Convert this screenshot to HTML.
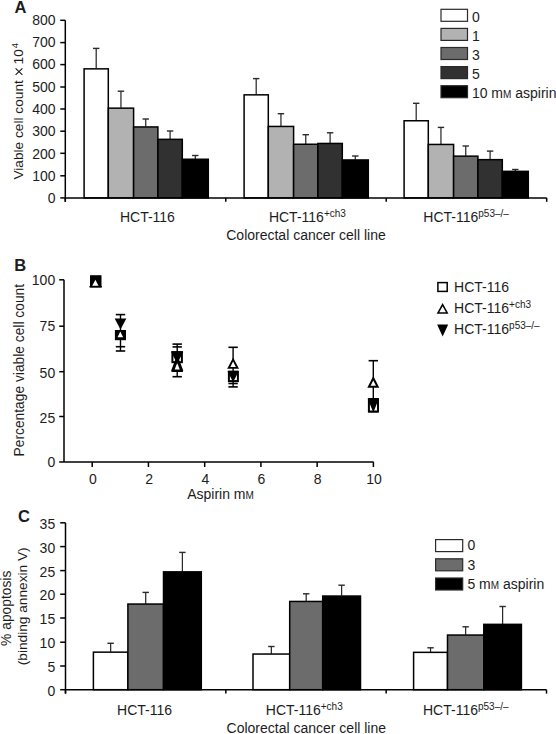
<!DOCTYPE html>
<html><head><meta charset="utf-8"><style>
html,body{margin:0;padding:0;background:#fff;width:556px;height:734px;overflow:hidden}
svg{display:block}
text{font-family:"Liberation Sans",sans-serif;fill:#1c1c1c}
</style></head><body>
<svg width="556" height="734" viewBox="0 0 556 734">
<line x1="96.20" y1="68.50" x2="96.20" y2="48.40" stroke="#2a2a2a" stroke-width="1.25"/>
<line x1="93.00" y1="48.40" x2="99.40" y2="48.40" stroke="#2a2a2a" stroke-width="1.4"/>
<line x1="120.95" y1="107.80" x2="120.95" y2="91.20" stroke="#2a2a2a" stroke-width="1.25"/>
<line x1="117.75" y1="91.20" x2="124.15" y2="91.20" stroke="#2a2a2a" stroke-width="1.4"/>
<line x1="145.75" y1="126.60" x2="145.75" y2="119.00" stroke="#2a2a2a" stroke-width="1.25"/>
<line x1="142.55" y1="119.00" x2="148.95" y2="119.00" stroke="#2a2a2a" stroke-width="1.4"/>
<line x1="170.10" y1="139.00" x2="170.10" y2="131.00" stroke="#2a2a2a" stroke-width="1.25"/>
<line x1="166.90" y1="131.00" x2="173.30" y2="131.00" stroke="#2a2a2a" stroke-width="1.4"/>
<line x1="195.30" y1="158.90" x2="195.30" y2="155.50" stroke="#2a2a2a" stroke-width="1.25"/>
<line x1="192.10" y1="155.50" x2="198.50" y2="155.50" stroke="#2a2a2a" stroke-width="1.4"/>
<rect x="84.10" y="68.85" width="24.20" height="129.05" fill="#ffffff" stroke="#000" stroke-width="1.5"/>
<rect x="108.30" y="108.15" width="25.30" height="89.75" fill="#b2b2b2" stroke="#000" stroke-width="1.5"/>
<rect x="133.60" y="126.95" width="24.30" height="70.95" fill="#6c6c6c" stroke="#000" stroke-width="1.5"/>
<rect x="157.90" y="139.35" width="24.40" height="58.55" fill="#313131" stroke="#000" stroke-width="1.5"/>
<rect x="182.30" y="159.25" width="26.00" height="38.65" fill="#000000" stroke="#000" stroke-width="1.5"/>
<line x1="256.20" y1="94.50" x2="256.20" y2="78.60" stroke="#2a2a2a" stroke-width="1.25"/>
<line x1="253.00" y1="78.60" x2="259.40" y2="78.60" stroke="#2a2a2a" stroke-width="1.4"/>
<line x1="280.95" y1="126.10" x2="280.95" y2="113.70" stroke="#2a2a2a" stroke-width="1.25"/>
<line x1="277.75" y1="113.70" x2="284.15" y2="113.70" stroke="#2a2a2a" stroke-width="1.4"/>
<line x1="305.75" y1="143.90" x2="305.75" y2="134.70" stroke="#2a2a2a" stroke-width="1.25"/>
<line x1="302.55" y1="134.70" x2="308.95" y2="134.70" stroke="#2a2a2a" stroke-width="1.4"/>
<line x1="330.10" y1="143.10" x2="330.10" y2="132.80" stroke="#2a2a2a" stroke-width="1.25"/>
<line x1="326.90" y1="132.80" x2="333.30" y2="132.80" stroke="#2a2a2a" stroke-width="1.4"/>
<line x1="355.30" y1="159.60" x2="355.30" y2="156.00" stroke="#2a2a2a" stroke-width="1.25"/>
<line x1="352.10" y1="156.00" x2="358.50" y2="156.00" stroke="#2a2a2a" stroke-width="1.4"/>
<rect x="244.10" y="94.85" width="24.20" height="103.05" fill="#ffffff" stroke="#000" stroke-width="1.5"/>
<rect x="268.30" y="126.45" width="25.30" height="71.45" fill="#b2b2b2" stroke="#000" stroke-width="1.5"/>
<rect x="293.60" y="144.25" width="24.30" height="53.65" fill="#6c6c6c" stroke="#000" stroke-width="1.5"/>
<rect x="317.90" y="143.45" width="24.40" height="54.45" fill="#313131" stroke="#000" stroke-width="1.5"/>
<rect x="342.30" y="159.95" width="26.00" height="37.95" fill="#000000" stroke="#000" stroke-width="1.5"/>
<line x1="416.20" y1="120.40" x2="416.20" y2="103.30" stroke="#2a2a2a" stroke-width="1.25"/>
<line x1="413.00" y1="103.30" x2="419.40" y2="103.30" stroke="#2a2a2a" stroke-width="1.4"/>
<line x1="440.95" y1="144.10" x2="440.95" y2="127.40" stroke="#2a2a2a" stroke-width="1.25"/>
<line x1="437.75" y1="127.40" x2="444.15" y2="127.40" stroke="#2a2a2a" stroke-width="1.4"/>
<line x1="465.75" y1="155.80" x2="465.75" y2="146.00" stroke="#2a2a2a" stroke-width="1.25"/>
<line x1="462.55" y1="146.00" x2="468.95" y2="146.00" stroke="#2a2a2a" stroke-width="1.4"/>
<line x1="490.10" y1="159.30" x2="490.10" y2="151.10" stroke="#2a2a2a" stroke-width="1.25"/>
<line x1="486.90" y1="151.10" x2="493.30" y2="151.10" stroke="#2a2a2a" stroke-width="1.4"/>
<line x1="515.30" y1="171.00" x2="515.30" y2="169.50" stroke="#2a2a2a" stroke-width="1.25"/>
<line x1="512.10" y1="169.50" x2="518.50" y2="169.50" stroke="#2a2a2a" stroke-width="1.4"/>
<rect x="404.10" y="120.75" width="24.20" height="77.15" fill="#ffffff" stroke="#000" stroke-width="1.5"/>
<rect x="428.30" y="144.45" width="25.30" height="53.45" fill="#b2b2b2" stroke="#000" stroke-width="1.5"/>
<rect x="453.60" y="156.15" width="24.30" height="41.75" fill="#6c6c6c" stroke="#000" stroke-width="1.5"/>
<rect x="477.90" y="159.65" width="24.40" height="38.25" fill="#313131" stroke="#000" stroke-width="1.5"/>
<rect x="502.30" y="171.35" width="26.00" height="26.55" fill="#000000" stroke="#000" stroke-width="1.5"/>
<line x1="65.30" y1="20.30" x2="65.30" y2="201.80" stroke="#000" stroke-width="1.5"/>
<line x1="65.30" y1="197.90" x2="546.70" y2="197.90" stroke="#000" stroke-width="1.5"/>
<line x1="60.30" y1="197.90" x2="65.30" y2="197.90" stroke="#000" stroke-width="1.5"/>
<text x="55.50" y="203.10" text-anchor="end" font-size="14" >0</text>
<line x1="60.30" y1="175.80" x2="65.30" y2="175.80" stroke="#000" stroke-width="1.5"/>
<text x="55.50" y="180.80" text-anchor="end" font-size="14" >100</text>
<line x1="60.30" y1="153.30" x2="65.30" y2="153.30" stroke="#000" stroke-width="1.5"/>
<text x="55.50" y="158.70" text-anchor="end" font-size="14" >200</text>
<line x1="60.30" y1="131.20" x2="65.30" y2="131.20" stroke="#000" stroke-width="1.5"/>
<text x="55.50" y="136.30" text-anchor="end" font-size="14" >300</text>
<line x1="60.30" y1="109.00" x2="65.30" y2="109.00" stroke="#000" stroke-width="1.5"/>
<text x="55.50" y="114.10" text-anchor="end" font-size="14" >400</text>
<line x1="60.30" y1="87.00" x2="65.30" y2="87.00" stroke="#000" stroke-width="1.5"/>
<text x="55.50" y="91.90" text-anchor="end" font-size="14" >500</text>
<line x1="60.30" y1="64.60" x2="65.30" y2="64.60" stroke="#000" stroke-width="1.5"/>
<text x="55.50" y="69.40" text-anchor="end" font-size="14" >600</text>
<line x1="60.30" y1="42.60" x2="65.30" y2="42.60" stroke="#000" stroke-width="1.5"/>
<text x="55.50" y="47.20" text-anchor="end" font-size="14" >700</text>
<line x1="60.30" y1="20.30" x2="65.30" y2="20.30" stroke="#000" stroke-width="1.5"/>
<text x="55.50" y="25.00" text-anchor="end" font-size="14" >800</text>
<line x1="65.30" y1="197.90" x2="65.30" y2="201.80" stroke="#000" stroke-width="1.5"/>
<line x1="225.77" y1="197.90" x2="225.77" y2="201.80" stroke="#000" stroke-width="1.5"/>
<line x1="386.23" y1="197.90" x2="386.23" y2="201.80" stroke="#000" stroke-width="1.5"/>
<line x1="546.70" y1="197.90" x2="546.70" y2="201.80" stroke="#000" stroke-width="1.5"/>
<text x="147.40" y="221.80" text-anchor="middle" font-size="14" >HCT-116</text>
<text x="268.9" y="222" font-size="14">HCT-116<tspan font-size="10" dy="-5.3">+ch3</tspan></text>
<text x="423.3" y="222" font-size="14">HCT-116<tspan font-size="10" dy="-5.3">p53–/–</tspan></text>
<text x="306.00" y="240.00" text-anchor="middle" font-size="14" >Colorectal cancer cell line</text>
<g transform="translate(22.8,179.6) rotate(-90)"><text x="0" y="0" font-size="13.7">Viable cell count</text><text x="115.2" y="0" font-size="13.7">10</text><text x="131.4" y="-5.2" font-size="9.6">4</text></g>
<path d="M15.6,68.4 L22.4,74.9 M15.6,74.9 L22.4,68.4" stroke="#111" stroke-width="1.05" fill="none"/>
<text x="14.6" y="12.9" font-size="16.5" font-weight="bold">A</text>
<rect x="441.00" y="9.30" width="26.50" height="12.00" fill="#ffffff" stroke="#2a2a2a" stroke-width="1.2"/>
<text x="471.90" y="21.70" text-anchor="start" font-size="14" >0</text>
<rect x="441.00" y="28.40" width="26.50" height="12.00" fill="#b2b2b2" stroke="#2a2a2a" stroke-width="1.2"/>
<text x="471.90" y="40.80" text-anchor="start" font-size="14" >1</text>
<rect x="441.00" y="47.50" width="26.50" height="12.00" fill="#6c6c6c" stroke="#2a2a2a" stroke-width="1.2"/>
<text x="471.90" y="59.90" text-anchor="start" font-size="14" >3</text>
<rect x="441.00" y="66.60" width="26.50" height="12.00" fill="#313131" stroke="#2a2a2a" stroke-width="1.2"/>
<text x="471.90" y="79.00" text-anchor="start" font-size="14" >5</text>
<rect x="441.00" y="85.70" width="26.50" height="12.00" fill="#000000" stroke="#2a2a2a" stroke-width="1.2"/>
<text x="471.90" y="98.10" text-anchor="start" font-size="14" >10 m<tspan font-size="10">M</tspan> aspirin</text>
<line x1="64.00" y1="279.80" x2="64.00" y2="462.00" stroke="#000" stroke-width="1.5"/>
<line x1="64.00" y1="462.00" x2="373.60" y2="462.00" stroke="#000" stroke-width="1.5"/>
<line x1="59.20" y1="462.00" x2="64.00" y2="462.00" stroke="#000" stroke-width="1.5"/>
<text x="55.20" y="467.40" text-anchor="end" font-size="14" >0</text>
<line x1="59.20" y1="416.50" x2="64.00" y2="416.50" stroke="#000" stroke-width="1.5"/>
<text x="55.20" y="423.30" text-anchor="end" font-size="14" >25</text>
<line x1="59.20" y1="371.70" x2="64.00" y2="371.70" stroke="#000" stroke-width="1.5"/>
<text x="55.20" y="378.00" text-anchor="end" font-size="14" >50</text>
<line x1="59.20" y1="326.20" x2="64.00" y2="326.20" stroke="#000" stroke-width="1.5"/>
<text x="55.20" y="331.30" text-anchor="end" font-size="14" >75</text>
<line x1="59.20" y1="279.80" x2="64.00" y2="279.80" stroke="#000" stroke-width="1.5"/>
<text x="55.20" y="284.80" text-anchor="end" font-size="14" >100</text>
<line x1="92.20" y1="462.00" x2="92.20" y2="467.00" stroke="#000" stroke-width="1.5"/>
<text x="92.80" y="483.50" text-anchor="middle" font-size="14" >0</text>
<line x1="148.44" y1="462.00" x2="148.44" y2="467.00" stroke="#000" stroke-width="1.5"/>
<text x="149.04" y="483.50" text-anchor="middle" font-size="14" >2</text>
<line x1="204.68" y1="462.00" x2="204.68" y2="467.00" stroke="#000" stroke-width="1.5"/>
<text x="205.28" y="483.50" text-anchor="middle" font-size="14" >4</text>
<line x1="260.92" y1="462.00" x2="260.92" y2="467.00" stroke="#000" stroke-width="1.5"/>
<text x="261.52" y="483.50" text-anchor="middle" font-size="14" >6</text>
<line x1="317.16" y1="462.00" x2="317.16" y2="467.00" stroke="#000" stroke-width="1.5"/>
<text x="317.76" y="483.50" text-anchor="middle" font-size="14" >8</text>
<line x1="373.40" y1="462.00" x2="373.40" y2="467.00" stroke="#000" stroke-width="1.5"/>
<text x="374.00" y="483.50" text-anchor="middle" font-size="14" >10</text>
<text x="220.50" y="498.90" text-anchor="middle" font-size="14" >Aspirin m<tspan font-size="10">M</tspan></text>
<text transform="translate(24,370.2) rotate(-90)" text-anchor="middle" font-size="13.8">Percentage viable cell count</text>
<text x="14.3" y="271" font-size="16.5" font-weight="bold">B</text>
<rect x="90.00" y="275.20" width="11.50" height="12.30" fill="#000"/>
<polygon points="95.40,279.70 98.50,285.80 92.20,285.80" fill="#fff"/>
<line x1="89.40" y1="286.70" x2="101.90" y2="286.70" stroke="#000" stroke-width="1.4"/>
<line x1="120.50" y1="314.60" x2="120.50" y2="351.00" stroke="#000" stroke-width="1.4"/>
<line x1="115.80" y1="314.60" x2="125.20" y2="314.60" stroke="#000" stroke-width="1.6"/>
<line x1="115.80" y1="346.70" x2="125.20" y2="346.70" stroke="#000" stroke-width="1.6"/>
<line x1="115.80" y1="351.00" x2="125.20" y2="351.00" stroke="#000" stroke-width="1.6"/>
<polygon points="114.65,318.40 126.35,318.40 120.50,329.40" fill="#000"/>
<rect x="114.90" y="330.00" width="11.10" height="10.20" fill="#000"/>
<polygon points="120.30,331.50 123.10,337.30 117.50,337.30" fill="#fff"/>
<line x1="177.20" y1="344.10" x2="177.20" y2="376.70" stroke="#000" stroke-width="1.4"/>
<line x1="172.50" y1="344.10" x2="181.90" y2="344.10" stroke="#000" stroke-width="1.6"/>
<line x1="172.50" y1="346.90" x2="181.90" y2="346.90" stroke="#000" stroke-width="1.6"/>
<line x1="172.50" y1="376.70" x2="181.90" y2="376.70" stroke="#000" stroke-width="1.6"/>
<polygon points="177.20,356.50 183.10,371.90 171.30,371.90" fill="#000"/>
<polygon points="177.20,362.93 179.76,369.60 174.64,369.60" fill="#fff"/>
<rect x="171.40" y="351.20" width="11.50" height="12.00" fill="#000"/>
<rect x="173.40" y="353.20" width="7.50" height="8.00" fill="#fff"/>
<polygon points="172.00,352.00 182.40,352.00 177.20,361.80" fill="#000" stroke="#000" stroke-width="1.6" stroke-linejoin="round"/>
<polyline points="172.00,371 177.20,357.6 182.40,371" fill="none" stroke="#000" stroke-width="2"/>
<line x1="233.10" y1="347.30" x2="233.10" y2="386.90" stroke="#000" stroke-width="1.4"/>
<line x1="228.40" y1="347.30" x2="237.80" y2="347.30" stroke="#000" stroke-width="1.6"/>
<line x1="228.40" y1="383.50" x2="237.80" y2="383.50" stroke="#000" stroke-width="1.6"/>
<line x1="228.40" y1="386.90" x2="237.80" y2="386.90" stroke="#000" stroke-width="1.6"/>
<polygon points="233.10,357.40 239.00,368.80 227.20,368.80" fill="#000"/>
<polygon points="233.10,361.53 235.88,366.90 230.32,366.90" fill="#fff"/>
<rect x="227.90" y="370.80" width="11.00" height="11.30" fill="#000"/>
<rect x="229.90" y="372.80" width="7.00" height="7.30" fill="#fff"/>
<polygon points="228.30,371.50 237.90,371.50 233.10,380.60" fill="#000" stroke="#000" stroke-width="1.3" stroke-linejoin="round"/>
<line x1="373.30" y1="360.70" x2="373.30" y2="400.00" stroke="#000" stroke-width="1.4"/>
<line x1="368.60" y1="360.70" x2="378.00" y2="360.70" stroke="#000" stroke-width="1.6"/>
<polygon points="373.30,376.00 379.30,387.70 367.30,387.70" fill="#000"/>
<polygon points="373.30,380.38 376.03,385.70 370.57,385.70" fill="#fff"/>
<rect x="367.90" y="398.00" width="11.10" height="14.50" fill="#000"/>
<rect x="369.90" y="400.00" width="7.10" height="10.50" fill="#fff"/>
<polygon points="368.50,398.80 378.10,398.80 373.30,410.80" fill="#000" stroke="#000" stroke-width="1.3" stroke-linejoin="round"/>
<line x1="368.30" y1="411.80" x2="378.30" y2="411.80" stroke="#000" stroke-width="1.4"/>
<rect x="437.9" y="282.6" width="9.3" height="8.8" fill="none" stroke="#000" stroke-width="1.5"/>
<polygon points="442.60,303.00 448.50,313.80 436.70,313.80" fill="#000"/>
<polygon points="442.60,306.13 445.97,312.30 439.23,312.30" fill="#fff"/>
<polygon points="437.10,324.40 448.20,324.40 442.65,336.40" fill="#000"/>
<text x="454.10" y="292.30" text-anchor="start" font-size="14" >HCT-116</text>
<text x="454.1" y="313.3" font-size="14">HCT-116<tspan font-size="10" dy="-5.3">+ch3</tspan></text>
<text x="454.1" y="334.3" font-size="14">HCT-116<tspan font-size="10" dy="-5.3">p53–/–</tspan></text>
<line x1="110.65" y1="651.80" x2="110.65" y2="643.30" stroke="#2a2a2a" stroke-width="1.25"/>
<line x1="107.45" y1="643.30" x2="113.85" y2="643.30" stroke="#2a2a2a" stroke-width="1.4"/>
<line x1="145.70" y1="603.70" x2="145.70" y2="592.40" stroke="#2a2a2a" stroke-width="1.25"/>
<line x1="142.50" y1="592.40" x2="148.90" y2="592.40" stroke="#2a2a2a" stroke-width="1.4"/>
<line x1="182.40" y1="571.50" x2="182.40" y2="552.40" stroke="#2a2a2a" stroke-width="1.25"/>
<line x1="179.20" y1="552.40" x2="185.60" y2="552.40" stroke="#2a2a2a" stroke-width="1.4"/>
<rect x="93.40" y="652.15" width="34.50" height="37.55" fill="#ffffff" stroke="#000" stroke-width="1.5"/>
<rect x="127.90" y="604.05" width="35.60" height="85.65" fill="#6c6c6c" stroke="#000" stroke-width="1.5"/>
<rect x="163.50" y="571.85" width="37.80" height="117.85" fill="#000000" stroke="#000" stroke-width="1.5"/>
<line x1="271.35" y1="653.70" x2="271.35" y2="646.50" stroke="#2a2a2a" stroke-width="1.25"/>
<line x1="268.15" y1="646.50" x2="274.55" y2="646.50" stroke="#2a2a2a" stroke-width="1.4"/>
<line x1="306.20" y1="601.10" x2="306.20" y2="593.80" stroke="#2a2a2a" stroke-width="1.25"/>
<line x1="303.00" y1="593.80" x2="309.40" y2="593.80" stroke="#2a2a2a" stroke-width="1.4"/>
<line x1="341.60" y1="595.70" x2="341.60" y2="585.20" stroke="#2a2a2a" stroke-width="1.25"/>
<line x1="338.40" y1="585.20" x2="344.80" y2="585.20" stroke="#2a2a2a" stroke-width="1.4"/>
<rect x="253.00" y="654.05" width="36.70" height="35.65" fill="#ffffff" stroke="#000" stroke-width="1.5"/>
<rect x="289.70" y="601.45" width="33.00" height="88.25" fill="#6c6c6c" stroke="#000" stroke-width="1.5"/>
<rect x="322.70" y="596.05" width="37.80" height="93.65" fill="#000000" stroke="#000" stroke-width="1.5"/>
<line x1="430.55" y1="652.00" x2="430.55" y2="647.80" stroke="#2a2a2a" stroke-width="1.25"/>
<line x1="427.35" y1="647.80" x2="433.75" y2="647.80" stroke="#2a2a2a" stroke-width="1.4"/>
<line x1="465.65" y1="634.70" x2="465.65" y2="626.80" stroke="#2a2a2a" stroke-width="1.25"/>
<line x1="462.45" y1="626.80" x2="468.85" y2="626.80" stroke="#2a2a2a" stroke-width="1.4"/>
<line x1="502.60" y1="624.00" x2="502.60" y2="606.50" stroke="#2a2a2a" stroke-width="1.25"/>
<line x1="499.40" y1="606.50" x2="505.80" y2="606.50" stroke="#2a2a2a" stroke-width="1.4"/>
<rect x="413.60" y="652.35" width="33.90" height="37.35" fill="#ffffff" stroke="#000" stroke-width="1.5"/>
<rect x="447.50" y="635.05" width="36.30" height="54.65" fill="#6c6c6c" stroke="#000" stroke-width="1.5"/>
<rect x="483.80" y="624.35" width="37.60" height="65.35" fill="#000000" stroke="#000" stroke-width="1.5"/>
<line x1="65.50" y1="522.80" x2="65.50" y2="693.60" stroke="#000" stroke-width="1.5"/>
<line x1="65.50" y1="689.70" x2="546.50" y2="689.70" stroke="#000" stroke-width="1.5"/>
<line x1="60.20" y1="689.70" x2="65.50" y2="689.70" stroke="#000" stroke-width="1.5"/>
<text x="55.20" y="695.70" text-anchor="end" font-size="14" >0</text>
<line x1="60.20" y1="666.00" x2="65.50" y2="666.00" stroke="#000" stroke-width="1.5"/>
<text x="55.20" y="672.40" text-anchor="end" font-size="14" >5</text>
<line x1="60.20" y1="642.20" x2="65.50" y2="642.20" stroke="#000" stroke-width="1.5"/>
<text x="55.20" y="648.40" text-anchor="end" font-size="14" >10</text>
<line x1="60.20" y1="618.00" x2="65.50" y2="618.00" stroke="#000" stroke-width="1.5"/>
<text x="55.20" y="624.40" text-anchor="end" font-size="14" >15</text>
<line x1="60.20" y1="594.20" x2="65.50" y2="594.20" stroke="#000" stroke-width="1.5"/>
<text x="55.20" y="600.40" text-anchor="end" font-size="14" >20</text>
<line x1="60.20" y1="570.60" x2="65.50" y2="570.60" stroke="#000" stroke-width="1.5"/>
<text x="55.20" y="576.50" text-anchor="end" font-size="14" >25</text>
<line x1="60.20" y1="546.60" x2="65.50" y2="546.60" stroke="#000" stroke-width="1.5"/>
<text x="55.20" y="552.80" text-anchor="end" font-size="14" >30</text>
<line x1="60.20" y1="522.80" x2="65.50" y2="522.80" stroke="#000" stroke-width="1.5"/>
<text x="55.20" y="528.90" text-anchor="end" font-size="14" >35</text>
<line x1="65.50" y1="689.70" x2="65.50" y2="693.60" stroke="#000" stroke-width="1.5"/>
<line x1="225.83" y1="689.70" x2="225.83" y2="693.60" stroke="#000" stroke-width="1.5"/>
<line x1="386.17" y1="689.70" x2="386.17" y2="693.60" stroke="#000" stroke-width="1.5"/>
<line x1="546.50" y1="689.70" x2="546.50" y2="693.60" stroke="#000" stroke-width="1.5"/>
<text x="144.60" y="714.80" text-anchor="middle" font-size="14" >HCT-116</text>
<text x="265.8" y="714.8" font-size="14">HCT-116<tspan font-size="10" dy="-5.3">+ch3</tspan></text>
<text x="423" y="714.8" font-size="14">HCT-116<tspan font-size="10" dy="-5.3">p53–/–</tspan></text>
<text x="306.30" y="732.60" text-anchor="middle" font-size="14" >Colorectal cancer cell line</text>
<text transform="translate(10.6,608.3) rotate(-90)" text-anchor="middle" font-size="13.8">% apoptosis</text>
<text transform="translate(26.6,606.3) rotate(-90)" text-anchor="middle" font-size="13.7">(binding annexin V)</text>
<text x="18.1" y="521.5" font-size="16.5" font-weight="bold">C</text>
<rect x="435.60" y="539.60" width="27.10" height="12.00" fill="#ffffff" stroke="#2a2a2a" stroke-width="1.2"/>
<text x="467.40" y="550.40" text-anchor="start" font-size="14" >0</text>
<rect x="435.60" y="558.80" width="27.10" height="12.00" fill="#6c6c6c" stroke="#2a2a2a" stroke-width="1.2"/>
<text x="467.40" y="569.60" text-anchor="start" font-size="14" >3</text>
<rect x="435.60" y="578.00" width="27.10" height="12.00" fill="#000000" stroke="#2a2a2a" stroke-width="1.2"/>
<text x="467.40" y="588.80" text-anchor="start" font-size="14" >5 m<tspan font-size="10">M</tspan> aspirin</text>
</svg>
</body></html>
